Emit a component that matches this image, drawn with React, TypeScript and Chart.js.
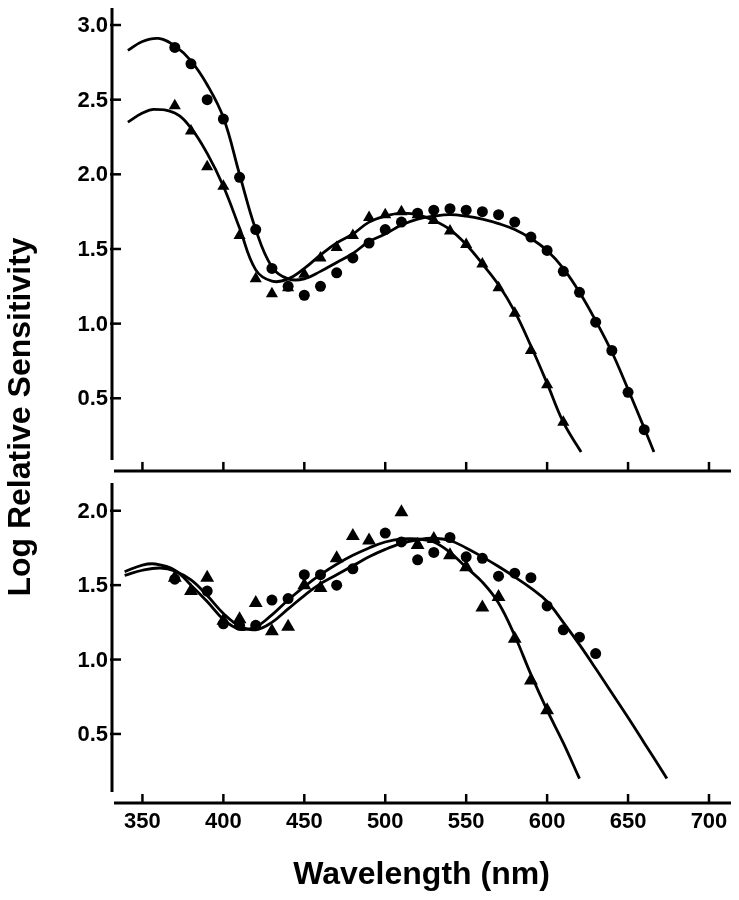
import { useEffect, useRef } from 'react';
import { Chart, registerables } from 'chart.js';

Chart.register(...registerables);

// ---------- axis ticks ----------
const WAVELENGTH_TICKS = [350, 400, 450, 500, 550, 600, 650, 700];
const TOP_Y_TICKS = [0.5, 1.0, 1.5, 2.0, 2.5, 3.0];
const BOTTOM_Y_TICKS = [0.5, 1.0, 1.5, 2.0];

const X_TITLE = 'Wavelength (nm)';
const Y_TITLE = 'Log Relative Sensitivity';

// ---------- top panel: measured points ----------
const topCircleNm = [370, 380, 390, 400, 410, 420, 430, 440, 450, 460, 470, 480, 490, 500, 510, 520, 530, 540, 550, 560, 570, 580, 590, 600, 610, 620, 630, 640, 650, 660];
const topCircleVal = [2.85, 2.74, 2.5, 2.37, 1.98, 1.63, 1.37, 1.25, 1.19, 1.25, 1.34, 1.44, 1.54, 1.63, 1.68, 1.74, 1.76, 1.77, 1.76, 1.75, 1.73, 1.68, 1.58, 1.49, 1.35, 1.21, 1.01, 0.82, 0.54, 0.29];

const topTriangleNm = [370, 380, 390, 400, 410, 420, 430, 440, 450, 460, 470, 480, 490, 500, 510, 520, 530, 540, 550, 560, 570, 580, 590, 600, 610];
const topTriangleVal = [2.46, 2.29, 2.05, 1.92, 1.59, 1.3, 1.2, 1.24, 1.33, 1.44, 1.51, 1.59, 1.71, 1.73, 1.75, 1.73, 1.69, 1.62, 1.53, 1.4, 1.24, 1.07, 0.82, 0.59, 0.34];

// ---------- top panel: fitted curves ----------
const topCircleFitNm = [341, 350, 360, 370, 380, 390, 400, 410, 420, 430, 440, 450, 460, 470, 480, 490, 500, 510, 520, 530, 540, 550, 560, 570, 580, 590, 600, 610, 620, 630, 640, 650, 660, 666];
const topCircleFitVal = [2.83, 2.89, 2.91, 2.86, 2.76, 2.6, 2.38, 2.0, 1.63, 1.38, 1.3, 1.3, 1.35, 1.41, 1.47, 1.55, 1.6, 1.66, 1.7, 1.72, 1.73, 1.72, 1.7, 1.67, 1.63, 1.57, 1.49, 1.37, 1.21, 1.02, 0.81, 0.56, 0.3, 0.14];

const topTriangleFitNm = [341, 350, 357, 370, 380, 390, 400, 410, 420, 430, 440, 450, 460, 470, 480, 490, 500, 510, 520, 530, 540, 550, 560, 570, 580, 590, 600, 610, 621];
const topTriangleFitVal = [2.35, 2.41, 2.435, 2.41, 2.31, 2.14, 1.92, 1.64, 1.36, 1.285, 1.3, 1.37, 1.46, 1.54, 1.6, 1.68, 1.72, 1.74, 1.73, 1.69, 1.63, 1.53, 1.4, 1.26, 1.08, 0.85, 0.6, 0.34, 0.14];

// ---------- bottom panel: measured points ----------
const bottomCircleNm = [370, 390, 400, 410, 420, 430, 440, 450, 460, 470, 480, 500, 510, 520, 530, 540, 550, 560, 570, 580, 590, 600, 610, 620, 630];
const bottomCircleVal = [1.54, 1.46, 1.24, 1.23, 1.23, 1.4, 1.41, 1.57, 1.57, 1.5, 1.61, 1.85, 1.79, 1.67, 1.72, 1.82, 1.69, 1.68, 1.56, 1.58, 1.55, 1.36, 1.2, 1.15, 1.04];

const bottomTriangleNm = [370, 380, 390, 400, 410, 420, 430, 440, 450, 460, 470, 480, 490, 510, 520, 530, 540, 550, 560, 570, 580, 590, 600];
const bottomTriangleVal = [1.55, 1.46, 1.55, 1.26, 1.27, 1.38, 1.19, 1.22, 1.5, 1.48, 1.68, 1.83, 1.8, 1.99, 1.77, 1.81, 1.7, 1.62, 1.35, 1.42, 1.14, 0.86, 0.66];

// ---------- bottom panel: fitted curves ----------
const bottomCircleFitNm = [339, 350, 361, 370, 380, 390, 400, 410, 420, 430, 440, 450, 460, 470, 480, 490, 500, 510, 520, 530, 540, 550, 560, 570, 580, 590, 600, 610, 620, 630, 640, 650, 660, 670, 674];
const bottomCircleFitVal = [1.565, 1.6, 1.615, 1.595, 1.535, 1.43, 1.31, 1.225, 1.2, 1.25, 1.34, 1.43, 1.51, 1.57, 1.63, 1.69, 1.74, 1.78, 1.805, 1.815, 1.8, 1.75, 1.69, 1.625, 1.555, 1.48, 1.39, 1.25, 1.1, 0.94, 0.775, 0.61, 0.44, 0.27, 0.2];

const bottomTriangleFitNm = [339, 350, 358, 370, 380, 390, 400, 410, 420, 430, 440, 450, 460, 470, 480, 490, 500, 510, 520, 530, 540, 550, 560, 570, 580, 590, 600, 610, 620];
const bottomTriangleFitVal = [1.59, 1.635, 1.642, 1.6, 1.5, 1.39, 1.27, 1.205, 1.22, 1.3, 1.4, 1.49, 1.57, 1.64, 1.7, 1.75, 1.79, 1.81, 1.81, 1.79, 1.72, 1.62, 1.52, 1.38, 1.16, 0.9, 0.66, 0.44, 0.2];

// ---------- scale ranges ----------
const X_MIN = 331.2;
const X_MAX = 713.6;
const TOP_SCALE = { min: -2.137, max: 3.114 };
const BOTTOM_SCALE = { min: 0.11, max: 5.378 };

const PANELS = [
  { yId: 'yT', axisMax: 3.114, axisMin: 0.087, ticks: TOP_Y_TICKS, xLabels: false },
  { yId: 'yB', axisMax: 2.186, axisMin: 0.11, ticks: BOTTOM_Y_TICKS, xLabels: true },
];

const FONT_FAMILY = "'Liberation Sans', Arial, Helvetica, sans-serif";

const pts = (xs: number[], ys: number[]) => xs.map((x, i) => ({ x, y: ys[i] }));

const markerSet = (data: any[], yAxisID: string, style: string, radius: number) => ({
  data,
  yAxisID,
  showLine: false,
  pointStyle: style,
  pointRadius: radius,
  pointBackgroundColor: '#000',
  pointBorderColor: '#000',
  pointBorderWidth: 0,
  borderColor: '#000',
  backgroundColor: '#000',
  clip: false,
});

const curveSet = (data: any[], yAxisID: string) => ({
  data,
  yAxisID,
  showLine: true,
  borderColor: '#000',
  borderWidth: 2.8,
  pointRadius: 0,
  tension: 0.4,
  fill: false,
  clip: false,
});

const axesPlugin = {
  id: 'panelAxes',
  afterDraw(chart: any) {
    const { ctx, chartArea, scales } = chart;
    const xs = scales.x;
    const line = (x1: number, y1: number, x2: number, y2: number) => {
      ctx.beginPath();
      ctx.moveTo(x1, y1);
      ctx.lineTo(x2, y2);
      ctx.stroke();
    };
    ctx.save();
    ctx.strokeStyle = '#000';
    ctx.fillStyle = '#000';
    ctx.lineCap = 'butt';
    for (const p of PANELS) {
      const ys = scales[p.yId];
      const ax = chartArea.left;
      const top = ys.getPixelForValue(p.axisMax);
      const bot = ys.getPixelForValue(p.axisMin);
      ctx.lineWidth = 3;
      line(ax, top, ax, bot);
      ctx.font = `bold 22px ${FONT_FAMILY}`;
      ctx.textAlign = 'right';
      ctx.textBaseline = 'middle';
      ctx.lineWidth = 2.5;
      for (const v of p.ticks) {
        const py = ys.getPixelForValue(v);
        line(ax - 2, py, ax + 9, py);
        ctx.fillText(v.toFixed(1), ax - 4, py + 1);
      }
      const axisY = bot + 11;
      ctx.lineWidth = 3;
      line(ax + 2, axisY, chartArea.right, axisY);
      ctx.lineWidth = 2.5;
      ctx.textAlign = 'center';
      ctx.textBaseline = 'alphabetic';
      for (const t of WAVELENGTH_TICKS) {
        const px = xs.getPixelForValue(t);
        line(px, axisY, px, axisY - 9);
        if (p.xLabels) ctx.fillText(String(t), px, axisY + 25);
      }
    }
    ctx.font = `bold 32px ${FONT_FAMILY}`;
    ctx.textAlign = 'center';
    ctx.textBaseline = 'alphabetic';
    ctx.fillText(X_TITLE, (chartArea.left + chartArea.right) / 2, 884);
    ctx.save();
    ctx.translate(30, 417);
    ctx.rotate(-Math.PI / 2);
    ctx.fillText(Y_TITLE, 0, 0);
    ctx.restore();
    ctx.restore();
  },
};

export default function App() {
  const ref = useRef<HTMLCanvasElement | null>(null);
  useEffect(() => {
    if (!ref.current) return;
    const chart = new Chart(ref.current, {
      type: 'line',
      data: {
        datasets: [
          markerSet(pts(topCircleNm, topCircleVal), 'yT', 'circle', 5.5),
          markerSet(pts(topTriangleNm, topTriangleVal), 'yT', 'triangle', 7),
          markerSet(pts(bottomCircleNm, bottomCircleVal), 'yB', 'circle', 5.5),
          markerSet(pts(bottomTriangleNm, bottomTriangleVal), 'yB', 'triangle', 8),
          curveSet(pts(topCircleFitNm, topCircleFitVal), 'yT'),
          curveSet(pts(topTriangleFitNm, topTriangleFitVal), 'yT'),
          curveSet(pts(bottomCircleFitNm, bottomCircleFitVal), 'yB'),
          curveSet(pts(bottomTriangleFitNm, bottomTriangleFitVal), 'yB'),
        ] as any,
      },
      options: {
        responsive: false,
        devicePixelRatio: 1,
        animation: false,
        events: [],
        layout: { padding: { left: 112, right: 7, top: 8, bottom: 108 } },
        plugins: { legend: { display: false }, tooltip: { enabled: false } },
        scales: {
          x: { type: 'linear', min: X_MIN, max: X_MAX, display: false },
          yT: { type: 'linear', min: TOP_SCALE.min, max: TOP_SCALE.max, display: false },
          yB: { type: 'linear', min: BOTTOM_SCALE.min, max: BOTTOM_SCALE.max, display: false },
        },
      } as any,
      plugins: [axesPlugin],
    });
    return () => chart.destroy();
  }, []);
  return (
    <div style={{ position: 'fixed', left: 0, top: 0, width: 739, height: 900, background: '#fff' }}>
      <canvas ref={ref} width={739} height={900} style={{ display: 'block' }} />
    </div>
  );
}
